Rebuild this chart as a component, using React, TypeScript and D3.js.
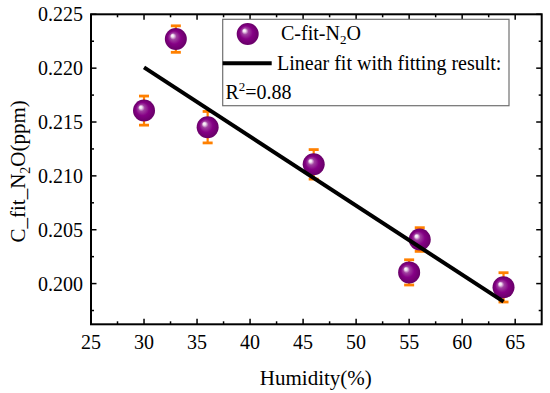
import React from "react";
import * as d3 from "d3";

const humidity = [30, 33, 36, 46, 55, 56, 63.9];
const concentration = [0.21606, 0.2227, 0.21452, 0.21107, 0.20104, 0.20409, 0.19965];
const errors = [0.00135, 0.00123, 0.00146, 0.00137, 0.00117, 0.0011, 0.00136];
const fitX = [30, 63.9];
const fitY = [0.22007, 0.19832];
const xTicks = [25, 30, 35, 40, 45, 50, 55, 60, 65];
const yTicks = [0.2, 0.205, 0.21, 0.215, 0.22, 0.225];

const W = 550;
const H = 393;
const L = 91, R = 541.7, T = 14.3, B = 324.3;
const FONT = "Liberation Serif, Times New Roman, Times, serif";

export default function App() {
  const x = d3.scaleLinear().domain([25, 67.5]).range([L, R]);
  const y = d3.scaleLinear().domain([0.19622, 0.225]).range([B, T]);
  const xMinor = d3.range(27.5, 67.5, 5);
  const yMinor = d3.range(0.1975, 0.225, 0.005);
  const line = d3.line<number>().x((d, i) => x(fitX[i])).y((d, i) => y(fitY[i]));
  const majorLen = 5.5, minorLen = 3;
  const r = 11;
  const ts = { fontFamily: FONT };
  return (
    <svg width={W} height={H} style={{ position: "absolute", left: 0, top: 0, background: "#fff" }}>
      <defs>
        <radialGradient id="ball" cx="0.5" cy="0.5" r="0.5" fx="0.33" fy="0.33">
          <stop offset="0" stopColor="#ffffff" />
          <stop offset="0.12" stopColor="#f0e0f0" />
          <stop offset="0.3" stopColor="#a040a0" />
          <stop offset="0.6" stopColor="#850085" />
          <stop offset="1" stopColor="#680068" />
        </radialGradient>
      </defs>
      <rect x={0} y={0} width={W} height={H} fill="#fff" />
      <g stroke="#000" strokeWidth={1.5}>
        {xTicks.map((t) => (
          <g key={"xt" + t}>
            <line x1={x(t)} x2={x(t)} y1={B} y2={B - majorLen} />
            <line x1={x(t)} x2={x(t)} y1={T} y2={T + majorLen} />
          </g>
        ))}
        {xMinor.map((t) => (
          <g key={"xm" + t}>
            <line x1={x(t)} x2={x(t)} y1={B} y2={B - minorLen} />
            <line x1={x(t)} x2={x(t)} y1={T} y2={T + minorLen} />
          </g>
        ))}
        {yTicks.map((t) => (
          <g key={"yt" + t}>
            <line x1={L} x2={L + majorLen} y1={y(t)} y2={y(t)} />
            <line x1={R} x2={R - majorLen} y1={y(t)} y2={y(t)} />
          </g>
        ))}
        {yMinor.map((t) => (
          <g key={"ym" + t}>
            <line x1={L} x2={L + minorLen} y1={y(t)} y2={y(t)} />
            <line x1={R} x2={R - minorLen} y1={y(t)} y2={y(t)} />
          </g>
        ))}
      </g>
      <rect x={L} y={T} width={R - L} height={B - T} fill="none" stroke="#000" strokeWidth={2} />
      <g style={ts} fontSize={20} fill="#000">
        {xTicks.map((t) => (
          <text key={"xl" + t} style={ts} x={x(t)} y={349} textAnchor="middle">{t}</text>
        ))}
        {yTicks.map((t) => (
          <text key={"yl" + t} style={ts} x={83} y={y(t) + 7} textAnchor="end">{d3.format(".3f")(t)}</text>
        ))}
        <text style={ts} x={(L + R) / 2 - 0.5} y={385} textAnchor="middle" fontSize={21}>Humidity(%)</text>
        <text style={ts} transform={`translate(25, ${(T + B) / 2 + 2}) rotate(-90)`} textAnchor="middle" fontSize={21}>
          C_fit_N<tspan fontSize={14} dy={5}>2</tspan><tspan dy={-5}>O(ppm)</tspan>
        </text>
      </g>
      <g stroke="#ff8000" strokeWidth={2.2}>
        {humidity.map((h, i) => (
          <g key={"e" + i}>
            <line x1={x(h)} x2={x(h)} y1={y(concentration[i] + errors[i])} y2={y(concentration[i] - errors[i])} />
            <line x1={x(h) - 5} x2={x(h) + 5} y1={y(concentration[i] + errors[i])} y2={y(concentration[i] + errors[i])} strokeWidth={2.8} />
            <line x1={x(h) - 5} x2={x(h) + 5} y1={y(concentration[i] - errors[i])} y2={y(concentration[i] - errors[i])} strokeWidth={2.8} />
          </g>
        ))}
      </g>
      {humidity.map((h, i) => (
        <circle key={"p" + i} cx={x(h)} cy={y(concentration[i])} r={r} fill="url(#ball)" />
      ))}
      <path d={line(fitX) || ""} stroke="#000" strokeWidth={4} fill="none" />
      <rect x={222.7} y={19.3} width={286.3} height={86.4} fill="#fff" stroke="#707070" strokeWidth={1.2} />
      <circle cx={247.7} cy={34} r={r} fill="url(#ball)" />
      <line x1={222.7} x2={271.7} y1={63.3} y2={63.3} stroke="#000" strokeWidth={4} />
      <g style={ts} fontSize={20} fill="#000">
        <text style={ts} x={281} y={40}>C-fit-N<tspan fontSize={13} dy={4}>2</tspan><tspan dy={-4}>O</tspan></text>
        <text style={ts} x={277} y={70}>Linear fit with fitting result:</text>
        <text style={ts} x={225.5} y={99}>R<tspan fontSize={13} dy={-8}>2</tspan><tspan dy={8}>=0.88</tspan></text>
      </g>
    </svg>
  );
}
